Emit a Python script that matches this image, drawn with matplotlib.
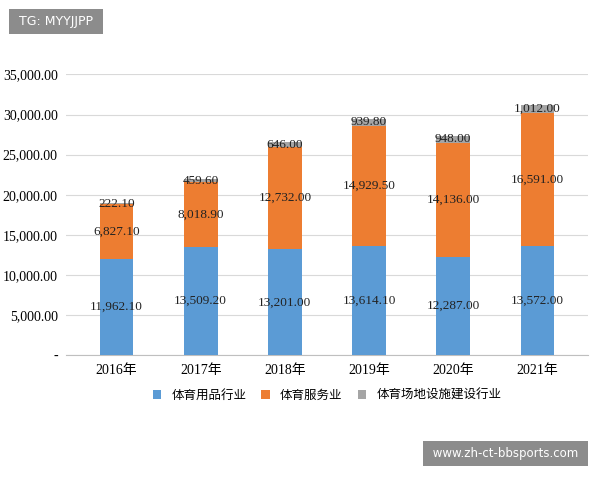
import matplotlib
matplotlib.use("Agg")
import matplotlib.pyplot as plt
from matplotlib import font_manager
import numpy as np

years = ["2016年", "2017年", "2018年", "2019年", "2020年", "2021年"]
goods = [11962.10, 13509.20, 13201.00, 13614.10, 12287.00, 13572.00]
services = [6827.10, 8018.90, 12732.00, 14929.50, 14136.00, 16591.00]
venues = [222.10, 459.60, 646.00, 939.80, 948.00, 1012.00]
series_names = ["体育用品行业", "体育服务业", "体育场地设施建设行业"]
yticks = [0, 5000, 10000, 15000, 20000, 25000, 30000, 35000]

avail = {f.name for f in font_manager.fontManager.ttflist}
cjk_names = [n for n in ["Noto Sans CJK SC", "Noto Sans CJK JP", "Noto Sans CJK TC", "Noto Sans CJK KR"] if n in avail]
if not cjk_names:
    cjk_names = [n for n in avail if "CJK" in n][:1]
serif = ["Liberation Serif"] + cjk_names
cjk = cjk_names + ["DejaVu Sans"]

fig = plt.figure(figsize=(6, 4.8), dpi=100)
ax = fig.add_axes([0.11, 0.26, 0.87, 0.585])
x = np.arange(len(years))
w = 0.4
c1, c2, c3 = "#5B9BD5", "#ED7D31", "#A5A5A5"
ax.bar(x, goods, w, color=c1, label=series_names[0], zorder=3)
ax.bar(x, services, w, bottom=goods, color=c2, label=series_names[1], zorder=3)
bot3 = np.array(goods) + np.array(services)
ax.bar(x, venues, w, bottom=bot3, color=c3, label=series_names[2], zorder=3)

for i in range(len(years)):
    ax.text(x[i], goods[i] / 2, f"{goods[i]:,.2f}", ha="center", va="center", fontsize=9.5, family="Liberation Serif", color="#222", zorder=4)
    ax.text(x[i], goods[i] + services[i] / 2, f"{services[i]:,.2f}", ha="center", va="center", fontsize=9.5, family="Liberation Serif", color="#222", zorder=4)
    ax.text(x[i], bot3[i] + venues[i] / 2, f"{venues[i]:,.2f}", ha="center", va="center", fontsize=9.5, family="Liberation Serif", color="#222", zorder=4)

ax.set_ylim(0, 35000)
ax.set_xlim(-0.6, 5.6)
ax.set_yticks(yticks)
ax.set_yticklabels(["-"] + [f"{v:,.2f}" for v in yticks[1:]], family="Liberation Serif", fontsize=10)
ax.set_xticks(x)
ax.set_xticklabels(years, family=serif, fontsize=10)
ax.grid(axis="y", color="#d9d9d9", lw=0.8, zorder=0)
for s in ["top", "right", "left"]:
    ax.spines[s].set_visible(False)
ax.spines["bottom"].set_color("#bfbfbf")
ax.tick_params(length=0, pad=6)

ax.legend(loc="upper center", bbox_to_anchor=(0.5, -0.08), ncol=3, frameon=False,
          prop={"family": cjk, "size": 9}, handlelength=0.7, handleheight=0.7, columnspacing=1.2)

fig.text(0.025, 0.955, " TG: MYYJJPP ", fontsize=9, color="white", va="center",
         bbox=dict(boxstyle="square,pad=0.45", fc="#8c8c8c", ec="none"))
fig.text(0.97, 0.055, " www.zh-ct-bbsports.com ", fontsize=8.5, color="white", ha="right", va="center",
         bbox=dict(boxstyle="square,pad=0.5", fc="#8c8c8c", ec="none"))

fig.savefig("out.png", dpi=100)
